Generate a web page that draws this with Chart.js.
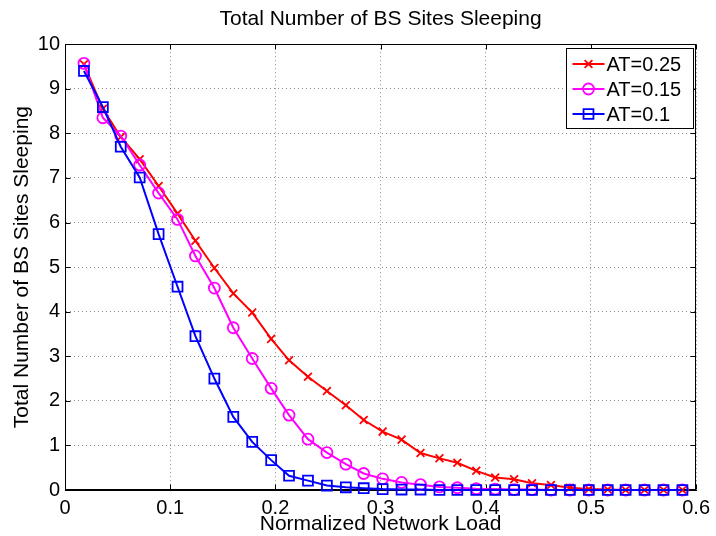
<!DOCTYPE html>
<html>
<head>
<meta charset="utf-8">
<title>Total Number of BS Sites Sleeping</title>
<script src="https://cdn.jsdelivr.net/npm/chart.js@4.4.0/dist/chart.umd.min.js"></script>
<style>
    html, body { margin: 0; padding: 0; background: #fff; }
</style>
</head>
<body>
<canvas id="sleepChart" width="716" height="536"></canvas>
<script>
// Normalized network load (x positions of the samples)
const loads = [
    0.018, 0.036, 0.053, 0.071, 0.089, 0.107, 0.124, 0.142, 0.160, 0.178, 0.196,
    0.213, 0.231, 0.249, 0.267, 0.284, 0.302, 0.320, 0.338, 0.356, 0.373, 0.391,
    0.409, 0.427, 0.444, 0.462, 0.480, 0.498, 0.516, 0.533, 0.551, 0.569, 0.587
];

// Sites sleeping for each activation threshold
const at025 = [
    9.55, 8.55, 7.92, 7.42, 6.82, 6.20, 5.59, 4.98, 4.41, 3.98, 3.39,
    2.91, 2.54, 2.22, 1.90, 1.57, 1.31, 1.13, 0.83, 0.71, 0.61, 0.43,
    0.28, 0.24, 0.15, 0.11, 0.05, 0.02, 0.01, 0.00, 0.00, 0.00, 0.00
];
const at015 = [
    9.57, 8.35, 7.94, 7.29, 6.66, 6.07, 5.25, 4.53, 3.64, 2.95, 2.28,
    1.68, 1.14, 0.84, 0.58, 0.37, 0.25, 0.17, 0.12, 0.07, 0.05, 0.03,
    0.02, 0.01, 0.01, 0.00, 0.00, 0.00, 0.00, 0.00, 0.00, 0.00, 0.00
];
const at010 = [
    9.40, 8.59, 7.70, 7.01, 5.74, 4.56, 3.45, 2.50, 1.64, 1.08, 0.67,
    0.32, 0.21, 0.10, 0.06, 0.04, 0.02, 0.01, 0.01, 0.00, 0.00, 0.00,
    0.00, 0.00, 0.00, 0.00, 0.00, 0.00, 0.00, 0.00, 0.00, 0.00, 0.00
];

const seriesLabels = ['AT=0.25', 'AT=0.15', 'AT=0.1'];

const FONT = 'Liberation Sans, Arial, Helvetica, sans-serif';
const GRID = 'rgba(0, 0, 0, 0.45)';

// pair loads with values for a linear x axis
const toPoints = (vals) => vals.map((v, i) => ({ x: loads[i], y: v }));

const makeSet = (label, vals, color, style, radius, order) => ({
    label: label,
    data: toPoints(vals),
    borderColor: color,
    backgroundColor: color,
    borderWidth: 2,
    pointStyle: style,
    pointRadius: radius,
    pointBorderWidth: 1.8,
    pointBorderColor: color,
    pointBackgroundColor: 'rgba(0,0,0,0)',
    tension: 0,
    clip: false,
    order: order
});

// draw one legend marker the same way Chart.js draws the point
function drawMarker(ctx, style, x, y, r) {
    ctx.beginPath();
    if (style === 'circle') {
        ctx.arc(x, y, r, 0, Math.PI * 2);
    } else if (style === 'rect') {
        const s = r * Math.SQRT1_2;
        ctx.rect(x - s, y - s, 2 * s, 2 * s);
    } else {
        const d = r * Math.SQRT1_2;
        ctx.moveTo(x - d, y - d); ctx.lineTo(x + d, y + d);
        ctx.moveTo(x - d, y + d); ctx.lineTo(x + d, y - d);
    }
    ctx.stroke();
}

// MATLAB style box, inward ticks and legend
const matlabFrame = {
    id: 'matlabFrame',
    beforeDatasetsDraw(chart) {
        const { ctx, chartArea: a, scales } = chart;
        ctx.save();
        ctx.strokeStyle = '#000';
        ctx.lineWidth = 1;
        const L = Math.round(a.left) + 0.5, R = Math.round(a.right) - 0.5;
        const T = Math.round(a.top) + 0.5, B = Math.round(a.bottom) - 0.5;
        ctx.strokeRect(L, T, R - L, B - T);
        const len = 5;
        ctx.beginPath();
        scales.x.ticks.forEach(t => {
            const px = Math.round(scales.x.getPixelForValue(t.value)) + 0.5;
            ctx.moveTo(px, B); ctx.lineTo(px, B - len);
            ctx.moveTo(px, T); ctx.lineTo(px, T + len);
        });
        scales.y.ticks.forEach(t => {
            const py = Math.round(scales.y.getPixelForValue(t.value)) + 0.5;
            ctx.moveTo(L, py); ctx.lineTo(L + len, py);
            ctx.moveTo(R, py); ctx.lineTo(R - len, py);
        });
        ctx.stroke();
        ctx.restore();
    },
    afterDraw(chart) {
        const { ctx, chartArea: a } = chart;
        const w = 127, h = 80;
        const bx = Math.round(a.right) - 3 - w + 0.5;
        const by = Math.round(a.top) + 4 + 0.5;
        ctx.save();
        ctx.fillStyle = '#fff';
        ctx.fillRect(bx, by, w, h);
        ctx.strokeStyle = '#000';
        ctx.lineWidth = 1;
        ctx.strokeRect(bx, by, w, h);
        ctx.font = '20px ' + FONT;
        ctx.textBaseline = 'middle';
        ctx.textAlign = 'left';
        chart.data.datasets.forEach((ds, i) => {
            const cy = by + 15.5 + i * 25;
            ctx.strokeStyle = ds.borderColor;
            ctx.lineWidth = ds.borderWidth;
            ctx.beginPath();
            ctx.moveTo(bx + 6, cy); ctx.lineTo(bx + 38, cy);
            ctx.stroke();
            ctx.lineWidth = ds.pointBorderWidth;
            drawMarker(ctx, ds.pointStyle, bx + 22, cy, ds.pointRadius);
            ctx.fillStyle = '#000';
            ctx.fillText(ds.label, bx + 40, cy + 1);
        });
        ctx.restore();
    }
};

const ctx = document.getElementById('sleepChart').getContext('2d');

const sleepChart = new Chart(ctx, {
    type: 'line',
    data: {
        datasets: [
            makeSet(seriesLabels[0], at025, '#ff0000', 'crossRot', 5.5, 2),
            makeSet(seriesLabels[1], at015, '#ff00ff', 'circle', 5.5, 1),
            makeSet(seriesLabels[2], at010, '#0000ff', 'rect', 7, 0)
        ]
    },
    options: {
        responsive: false,
        animation: false,
        layout: { padding: { left: 0, right: 15, top: 0, bottom: 0 } },
        plugins: {
            legend: { display: false },
            tooltip: { enabled: false },
            title: {
                display: true,
                fullSize: false,
                text: 'Total Number of BS Sites Sleeping',
                color: '#000',
                font: { family: FONT, size: 21, weight: 'normal' },
                padding: { top: 7, bottom: 12 }
            }
        },
        scales: {
            x: {
                type: 'linear',
                min: 0,
                max: 0.6,
                ticks: { stepSize: 0.1, color: '#000', padding: 6, font: { family: FONT, size: 20 } },
                grid: { color: GRID, drawTicks: false, lineWidth: 1 },
                border: { color: '#000', width: 1, dash: [1, 3] },
                title: {
                    display: true,
                    text: 'Normalized Network Load',
                    color: '#000',
                    font: { family: FONT, size: 21, lineHeight: 1.1 },
                    padding: { top: 0, bottom: 0 }
                },
                afterFit: (scale) => { scale.height = 46; }
            },
            y: {
                min: 0,
                max: 10,
                ticks: { stepSize: 1, color: '#000', padding: 5, font: { family: FONT, size: 20 } },
                grid: { color: GRID, drawTicks: false, lineWidth: 1 },
                border: { color: '#000', width: 1, dash: [1, 3] },
                title: {
                    display: true,
                    text: 'Total Number of BS Sites Sleeping',
                    color: '#000',
                    font: { family: FONT, size: 21 },
                    padding: { top: 10, bottom: 0 }
                },
                afterFit: (scale) => { scale.width = 65; }
            }
        }
    },
    plugins: [matlabFrame]
});
</script>
</body>
</html>
